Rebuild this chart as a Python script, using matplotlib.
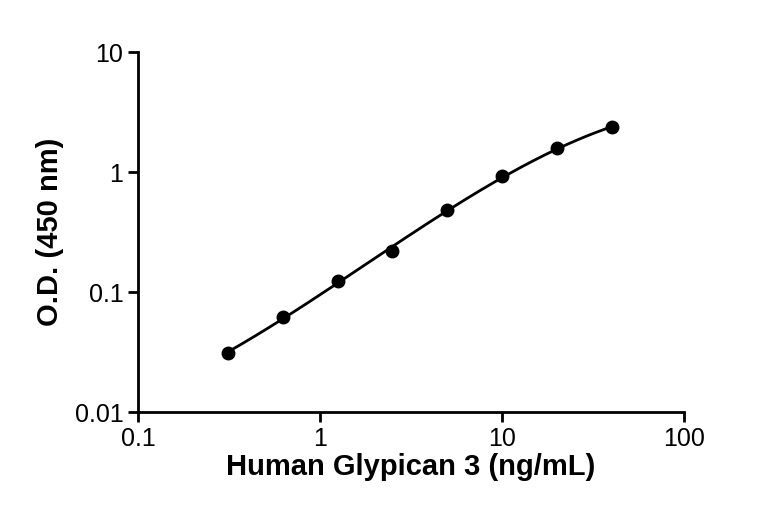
import numpy as np
import matplotlib
matplotlib.use("Agg")
import matplotlib.pyplot as plt

conc = [0.3125, 0.625, 1.25, 2.5, 5, 10, 20, 40]
od = [0.031, 0.062, 0.124, 0.218, 0.48, 0.92, 1.57, 2.35]
xticks = [0.1, 1, 10, 100]
xticklabels = ["0.1", "1", "10", "100"]
yticks = [0.01, 0.1, 1, 10]
yticklabels = ["0.01", "0.1", "1", "10"]

plt.rcParams['font.family'] = ['Liberation Sans', 'DejaVu Sans']
fig = plt.figure(figsize=(7.68, 5.21), dpi=100)
ax = fig.add_axes([138/768, 1-412/521, (684-138)/768, (412-52)/521])

lx, ly = np.log10(conc), np.log10(od)
c = np.polyfit(lx, ly, 3)
xs = np.linspace(lx[0], lx[-1], 200)
ax.plot(10**xs, 10**np.polyval(c, xs), color='black', lw=2)
ax.plot(conc, od, 'o', color='black', ms=9)

ax.set_xscale('log'); ax.set_yscale('log')
ax.set_xlim(0.1, 100); ax.set_ylim(0.01, 10)
ax.set_xticks(xticks); ax.set_xticklabels(xticklabels)
ax.set_yticks(yticks); ax.set_yticklabels(yticklabels)
ax.minorticks_off()
for s in ['top', 'right']:
    ax.spines[s].set_visible(False)
for s in ['left', 'bottom']:
    ax.spines[s].set_linewidth(2)
ax.tick_params(width=2, length=7, labelsize=18)
ax.set_xlabel("Human Glypican 3 (ng/mL)", fontsize=21, fontweight='bold', labelpad=2)
ax.set_ylabel("O.D. (450 nm)", fontsize=21, fontweight='bold', labelpad=8)
fig.savefig("out.png", dpi=100)
